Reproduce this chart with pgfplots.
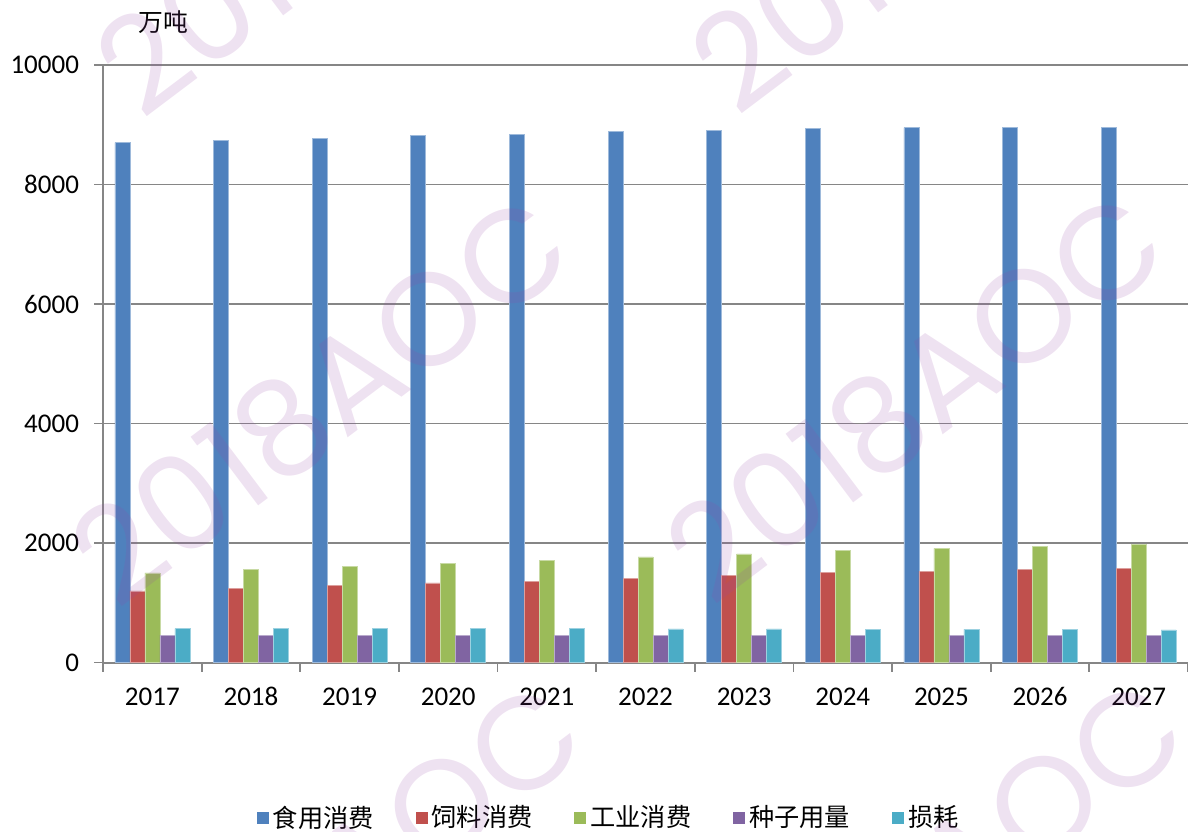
\documentclass[border=0pt]{standalone}
\usepackage{fontspec}
\setmainfont{Carlito}
\newfontfamily\cjk{Noto Sans CJK SC}
\newfontfamily\wm{Poppins}
\usepackage{pgfplots}
\pgfplotsset{compat=1.18}
\definecolor{cA}{HTML}{4F81BD}
\definecolor{cB}{HTML}{C0504D}
\definecolor{cC}{HTML}{9BBB59}
\definecolor{cD}{HTML}{8064A2}
\definecolor{cE}{HTML}{4BACC6}
\definecolor{axgray}{HTML}{868686}
\definecolor{wmcol}{HTML}{9848A8}
\begin{document}
\begin{tikzpicture}
\useasboundingbox (0pt,0pt) rectangle (594pt,415.5pt);
\begin{axis}[
  at={(51.5pt,84.25pt)}, anchor=south west,
  scale only axis, width=542.5pt, height=298.75pt,
  xmin=-0.5, xmax=10.5, ymin=0, ymax=10000,
  ybar=0pt, bar width=7.5pt,
  axis x line=bottom, axis y line=left,
  axis line style={-, draw=axgray, line width=1pt},
  ytick={0,2000,4000,6000,8000,10000},
  scaled y ticks=false,
  ymajorgrids, grid style={draw=axgray, line width=0.9pt},
  tick align=outside, major tick length=4.5pt,
  tick style={draw=axgray, line width=0.9pt},
  xtick={-0.5,0.5,1.5,2.5,3.5,4.5,5.5,6.5,7.5,8.5,9.5,10.5},
  xticklabels={},
  extra x ticks={0,1,2,3,4,5,6,7,8,9,10},
  extra x tick labels={2017,2018,2019,2020,2021,2022,2023,2024,2025,2026,2027},
  extra x tick style={major tick length=0pt, xticklabel style={anchor=base, yshift=-21.5pt}},
  tick label style={font=\fontsize{13.5}{16}\selectfont},
  /pgf/number format/assume math mode=true,
  /pgf/number format/1000 sep={},
  yticklabel style={xshift=-4pt},
  legend style={at={(0.467,-0.26)}, anchor=center, draw=none, fill=none,
    legend columns=-1, font=\cjk\fontsize{12.6}{14}\selectfont,
    /tikz/every even column/.append style={column sep=19pt}},
  legend image code/.code={\path[#1,draw=none] (0pt,-3pt) rectangle (6pt,3pt);},
]
\addplot[fill=cA, draw=cA!55!white, line width=0.3pt] coordinates {(0,8700) (1,8740) (2,8778) (3,8817) (4,8845) (5,8884) (6,8907) (7,8941) (8,8950) (9,8957) (10,8962)};
\addplot[fill=cB, draw=cB!55!white, line width=0.3pt] coordinates {(0,1197) (1,1241) (2,1286) (3,1331) (4,1364) (5,1414) (6,1453) (7,1503) (8,1531) (9,1553) (10,1577)};
\addplot[fill=cC, draw=cC!55!white, line width=0.3pt] coordinates {(0,1498) (1,1553) (2,1610) (3,1660) (4,1710) (5,1766) (6,1816) (7,1878) (8,1911) (9,1938) (10,1972)};
\addplot[fill=cD, draw=cD!55!white, line width=0.3pt] coordinates {(0,460) (1,460) (2,455) (3,460) (4,460) (5,460) (6,460) (7,460) (8,460) (9,460) (10,460)};
\addplot[fill=cE, draw=cE!55!white, line width=0.3pt] coordinates {(0,566) (1,572) (2,572) (3,572) (4,566) (5,561) (6,561) (7,559) (8,555) (9,555) (10,544)};
\legend{食用消费,饲料消费,工业消费,种子用量,损耗}
\end{axis}
\node[font=\cjk\fontsize{12.4}{14}\selectfont] at (81.5pt,404.5pt) {万吨};
\begin{scope}
\clip (0pt,0pt) rectangle (594pt,415.5pt);
\foreach \cx/\cy in {320/400,915/397,345/-90,940/-93,333/887,935/884} {
  \node[rotate=37, text=wmcol, text opacity=0.16, font=\wm\fontsize{66}{70}\selectfont] at ({\cx*0.5pt},{(831-\cy)*0.5pt}) {2018AOC};
}
\end{scope}
\end{tikzpicture}
\end{document}
